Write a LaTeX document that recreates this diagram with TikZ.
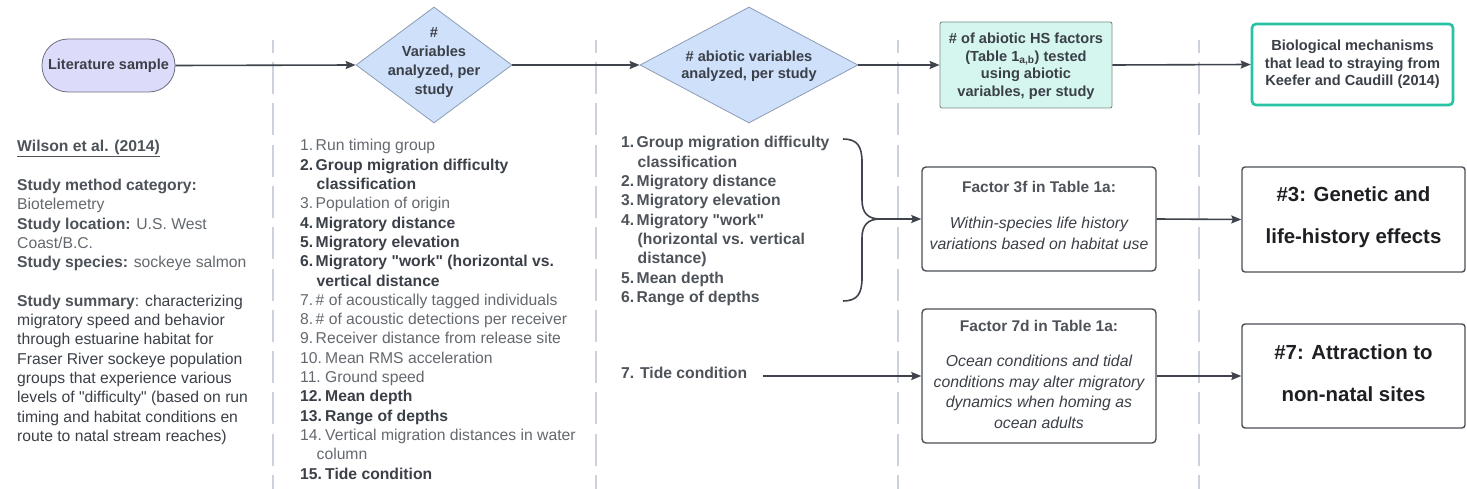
\documentclass[tikz,border=0pt]{standalone}
\usepackage{fontspec}
\setmainfont{Liberation Sans}[Ligatures=TeXOff]
\usetikzlibrary{shapes.geometric,arrows.meta}
\definecolor{txtdark}{HTML}{3B4048}
\definecolor{txtmid}{HTML}{4E535A}
\definecolor{txtgray}{HTML}{64696F}
\definecolor{txtblack}{HTML}{1E1F22}
\definecolor{linecol}{HTML}{3F444C}
\definecolor{divcol}{HTML}{CBD2DC}
\definecolor{pillfill}{HTML}{DCDCFA}
\definecolor{pilldraw}{HTML}{6E6E82}
\definecolor{diafill}{HTML}{CFE0FB}
\definecolor{diadraw}{HTML}{8C9CB4}
\definecolor{mintfill}{HTML}{D4F6EE}
\definecolor{mintdraw}{HTML}{7E8C8A}
\definecolor{tealdraw}{HTML}{27C3A4}
\definecolor{boxdraw}{HTML}{4A4F57}
\newcommand\cblock[2]{\parbox[t]{#1}{\leavevmode\centering #2}}
\newcommand\lblock[2]{\parbox[t]{#1}{\leavevmode\raggedright #2}}
\newcommand\numA[1]{\makebox[15.5pt][l]{#1}}
\newcommand\numB[1]{\makebox[25pt][l]{#1}}
\newcommand\contind{\hspace*{16.5pt}}
\begin{document}
\begin{tikzpicture}[x=1pt,y=-1pt,
  divider/.style={draw=divcol, line width=2.4pt, dash pattern=on 32pt off 9.3pt, dash phase=19.3pt},
  arr/.style={draw=linecol, line width=1.6pt, -{Stealth[length=10pt,width=8pt,inset=1.5pt]}},
  bracepath/.style={draw=linecol, line width=1.6pt},
  pill/.style={draw=pilldraw, fill=pillfill, line width=0.8pt, rounded corners=26pt, minimum width=133, minimum height=53, inner sep=0, text=txtdark, font=\fontsize{14.5}{17}\selectfont\bfseries},
  diam/.style={diamond, draw=diadraw, fill=diafill, line width=0.8pt, inner sep=0},
  mintbox/.style={draw=mintdraw, fill=mintfill, line width=0.9pt, rounded corners=2pt, inner sep=0},
  biobox/.style={draw=tealdraw, fill=white, line width=2.6pt, rounded corners=4pt, inner sep=0},
  factbox/.style={draw=boxdraw, fill=white, line width=1.4pt, rounded corners=4pt, inner sep=0, minimum width=234},
  mechbox/.style={draw=boxdraw, fill=white, line width=1.4pt, rounded corners=3pt, inner sep=0, minimum width=223},
  tb/.style={anchor=base, inner sep=0},
  tbl/.style={anchor=base west, inner sep=0},
  headtxt/.style={tb, text=txtdark, font=\fontsize{14.6}{17.5}\selectfont\bfseries},
  listtxt/.style={tbl, text=txtdark, font=\fontsize{15.7}{19.3}\selectfont},
  ftitle/.style={tb, text=txtmid, font=\fontsize{15.5}{19}\selectfont\bfseries},
  fital/.style={tb, text=txtdark, font=\fontsize{15.8}{20.5}\selectfont\itshape},
  bigtxt/.style={tb, text=txtblack, font=\fontsize{20.4}{42}\selectfont\bfseries}
]
\fill[white] (0,0) rectangle (1467,489);
\useasboundingbox (0,0) rectangle (1467,489);

% lane dividers
\draw[divider] (273,40) -- (273,489);
\draw[divider] (596,40) -- (596,489);
\draw[divider] (898,40) -- (898,489);
\draw[divider] (1199,40) -- (1199,489);

% top row
\node[pill] (lit) at (108.5,65.5) {Literature sample};
\node[diam, minimum width=156, minimum height=116] (d1) at (434,65) {};
\node[headtxt, font=\fontsize{14.6}{19}\selectfont\bfseries] (d1t) at (434,38) {\cblock{130pt}{\#\\Variables\\analyzed, per\\study}};
\node[diam, minimum width=218, minimum height=116] (d2) at (749,65) {};
\node[headtxt] (d2t) at (749,61.5) {\cblock{180pt}{\# abiotic variables\\analyzed, per study}};
\node[mintbox, minimum width=172, minimum height=86] (hs) at (1026,65) {};
\node[headtxt] (hst) at (1026,44) {\cblock{170pt}{\# of abiotic HS factors\\(Table 1\textsubscript{a,b}) tested\\using abiotic\\variables, per study}};
\node[biobox, minimum width=201, minimum height=81] (bio) at (1352.5,64.5) {};
\node[headtxt] (biot) at (1352.5,51) {\cblock{200pt}{Biological mechanisms\\that lead to straying from\\Keefer and Caudill (2014)}};

\draw[arr] (lit.east) -- (d1.west);
\draw[arr] (d1.east) -- (d2.west);
\draw[arr] (d2.east) -- (hs.west);
\draw[arr] (hs.east) -- (bio.west);

% left column: study description
\node[listtxt] (study) at (17,152) {\lblock{250pt}{%
{\bfseries\color{txtmid}\underline{Wilson et al. (2014)}}\\
\mbox{}\\
{\bfseries\color{txtmid}Study method category:}\\
{\color{txtgray}Biotelemetry}\\
{\bfseries\color{txtmid}Study location:} {\color{txtgray}U.S. West}\\
{\color{txtgray}Coast/B.C.}\\
{\bfseries\color{txtmid}Study species:} {\color{txtgray}sockeye salmon}\\
\mbox{}\\
{\bfseries\color{txtmid}Study summary}: characterizing\\
migratory speed and behavior\\
through estuarine habitat for\\
Fraser River sockeye population\\
groups that experience various\\
levels of "difficulty" (based on run\\
timing and habitat conditions en\\
route to natal stream reaches)}};

% second column: all variables
\node[listtxt] (vars) at (300,151) {\lblock{300pt}{%
{\color{txtgray}\numA{1.}Run timing group}\\
{\bfseries\numA{2.}Group migration difficulty}\\
{\bfseries\contind classification}\\
{\color{txtgray}\numA{3.}Population of origin}\\
{\bfseries\numA{4.}Migratory distance}\\
{\bfseries\numA{5.}Migratory elevation}\\
{\bfseries\numA{6.}Migratory "work" (horizontal vs.}\\
{\bfseries\contind vertical distance}\\
{\color{txtgray}\numA{7.}\# of acoustically tagged individuals}\\
{\color{txtgray}\numA{8.}\# of acoustic detections per receiver}\\
{\color{txtgray}\numA{9.}Receiver distance from release site}\\
{\color{txtgray}\numB{10.}Mean RMS acceleration}\\
{\color{txtgray}\numB{11.}Ground speed}\\
{\bfseries\numB{12.}Mean depth}\\
{\bfseries\numB{13.}Range of depths}\\
{\color{txtgray}\numB{14.}Vertical migration distances in water}\\
{\color{txtgray}\contind column}\\
{\bfseries\numB{15.}Tide condition}}};

% third column: abiotic variables
\node[listtxt, text=txtmid] (abio) at (621,148) {\lblock{230pt}{\bfseries
\numA{1.}Group migration difficulty\\
\contind classification\\
\numA{2.}Migratory distance\\
\numA{3.}Migratory elevation\\
\numA{4.}Migratory "work"\\
\contind (horizontal vs. vertical\\
\contind distance)\\
\numA{5.}Mean depth\\
\numA{6.}Range of depths}};
\node[listtxt, text=txtmid, font=\fontsize{15.7}{19.3}\selectfont\bfseries] (tide) at (621,378) {7. Tide condition};

% brace
\coordinate (brtop) at (843,139);
\coordinate (brbot) at (843,301);
\coordinate (brtip) at (880,219);
\coordinate (tidestart) at (763,376);
\draw[bracepath] (brtop) .. controls (857,139) and (862,146) .. (862,162) -- (862,200)
  .. controls (862,213) and (868,219) .. (brtip);
\draw[bracepath] (brbot) .. controls (857,301) and (862,294) .. (862,278) -- (862,238)
  .. controls (862,225) and (868,219) .. (brtip);

% factor boxes
\node[factbox, minimum height=104] (f3) at (1039,219) {};
\node[ftitle] (f3t) at (1039,192.5) {Factor 3f in Table 1a:};
\node[fital] (f3i) at (1039,229) {\cblock{232pt}{Within-species life history\\variations based on habitat use}};
\node[factbox, minimum height=134] (f7) at (1039,376) {};
\node[ftitle] (f7t) at (1039,331) {Factor 7d in Table 1a:};
\node[fital] (f7i) at (1039,366.5) {\cblock{232pt}{Ocean conditions and tidal\\conditions may alter migratory\\dynamics when homing as\\ocean adults}};

% mechanism boxes
\node[mechbox, minimum height=105] (m3) at (1353.5,219.5) {};
\node[bigtxt] (m3t) at (1353.5,202) {\cblock{220pt}{\#3: Genetic and\\life-history effects}};
\node[mechbox, minimum height=104] (m7) at (1353.5,376) {};
\node[bigtxt] (m7t) at (1353.5,359) {\cblock{220pt}{\#7: Attraction to\\non-natal sites}};

\draw[arr] (brtip) -- (f3.west);
\draw[arr] (tidestart) -- (f7.west);
\draw[arr] (f3.east) -- (m3.west);
\draw[arr] (f7.east) -- (m7.west);
\end{tikzpicture}
\end{document}
